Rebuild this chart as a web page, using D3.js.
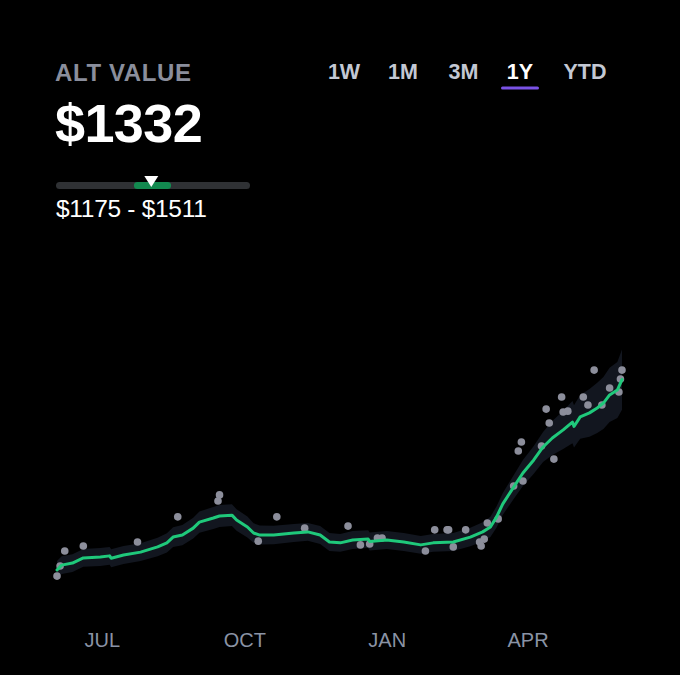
<!DOCTYPE html>
<html><head><meta charset="utf-8">
<script src="https://cdn.jsdelivr.net/npm/d3@7"></script>
<style>
html,body{margin:0;padding:0;background:#000;}
svg{display:block;}
</style></head>
<body>
<svg id="chart" width="680" height="675"></svg>
<script>
// ---- data ----
const title = "ALT VALUE";
const currentValue = 1332;
const rangeLow = 1175;
const rangeHigh = 1511;
const trackMin = 470, trackMax = 2225;
const tabs = ["1W", "1M", "3M", "1Y", "YTD"];
const activeTab = "1Y";
const tickDates = ["2023-07-01", "2023-10-01", "2024-01-01", "2024-04-01"];

const lineDates = ["2023-06-02","2023-06-05","2023-06-12","2023-06-19","2023-06-30","2023-07-06","2023-07-07","2023-07-15","2023-07-26","2023-08-06","2023-08-12","2023-08-16","2023-08-22","2023-08-29","2023-09-02","2023-09-11","2023-09-15","2023-09-23","2023-09-26","2023-10-03","2023-10-07","2023-10-11","2023-10-20","2023-11-02","2023-11-11","2023-11-19","2023-11-25","2023-12-02","2023-12-10","2023-12-20","2023-12-21","2024-01-01","2024-01-12","2024-01-23","2024-01-31","2024-02-13","2024-02-24","2024-03-03","2024-03-08","2024-03-12","2024-03-16","2024-03-23","2024-03-29","2024-04-05","2024-04-11","2024-04-17","2024-04-24","2024-04-30","2024-05-01","2024-05-05","2024-05-11","2024-05-16","2024-05-20","2024-05-24","2024-05-29","2024-06-01"];
const lineValues = [673,690,697,715,718,722,714,725,735,753,767,787,794,818,839,853,860,863,846,822,801,794,794,801,805,794,770,767,777,780,772,777,770,760,767,770,787,805,822,857,902,960,1009,1054,1099,1130,1158,1185,1170,1203,1217,1234,1251,1279,1296,1332];
const bandHalf = [31,31,31,31,31,31,31,31,31,32,33,34,35,36,37,38,38,38,37,36,34,33,32,31,31,31,31,31,31,31,31,31,31,31,31,31,32,33,35,37,38,41,45,48,52,59,66,73,73,76,83,87,90,94,97,104];

const dotDates = ["2023-06-02","2023-06-04","2023-06-07","2023-06-19","2023-07-24","2023-08-19","2023-09-15","2023-09-14","2023-10-22","2023-10-10","2023-11-09","2023-12-07","2023-12-15","2023-12-21","2023-12-26","2023-12-29","2024-01-26","2024-02-01","2024-02-09","2024-02-10","2024-02-13","2024-02-21","2024-03-01","2024-03-02","2024-03-04","2024-03-06","2024-03-13","2024-03-23","2024-03-29","2024-03-26","2024-03-28","2024-04-10","2024-04-18","2024-04-13","2024-04-15","2024-04-23","2024-04-24","2024-04-27","2024-05-07","2024-05-10","2024-05-14","2024-05-19","2024-05-24","2024-05-30","2024-05-31","2024-06-01"];
const dotValues = [652,687,739,756,770,857,933,912,857,773,818,825,760,763,784,784,739,812,812,812,753,812,770,756,780,836,850,964,981,1085,1116,1102,1057,1230,1182,1272,1220,1223,1272,1244,1365,1244,1303,1289,1334,1365];

// ---- setup ----
const parse = d3.utcParse("%Y-%m-%d");
const svg = d3.select("#chart");
svg.append("rect").attr("width",680).attr("height",675).attr("fill","#000");

const x = d3.scaleUtc().domain([parse("2023-06-02"), parse("2024-06-01")]).range([57, 622]);
const y = d3.scaleLinear().domain([500, 1400]).range([620, 360]);

const series = lineDates.map((d,i)=>({date:parse(d), v:lineValues[i], h:bandHalf[i]}));
const dots = dotDates.map((d,i)=>({date:parse(d), v:dotValues[i]}));

// ---- header ----
const font = "'Liberation Sans', Arial, sans-serif";
svg.append("text").attr("x",55).attr("y",80.5).text(title)
  .attr("font-family",font).attr("font-weight",700).attr("font-size",24)
  .attr("fill","#8a8e9c").attr("letter-spacing",0.6);
svg.append("text").attr("x",55).attr("y",142).text("$" + currentValue)
  .attr("font-family",font).attr("font-weight",700).attr("font-size",54)
  .attr("fill","#ffffff").attr("letter-spacing",-0.6);

const rs = d3.scaleLinear().domain([trackMin, trackMax]).range([56, 250]);
svg.append("rect").attr("x",rs(trackMin)).attr("y",182).attr("width",rs(trackMax)-rs(trackMin)).attr("height",7)
  .attr("rx",3.5).attr("fill","#2f3134");
svg.append("rect").attr("x",rs(rangeLow)).attr("y",182).attr("width",rs(rangeHigh)-rs(rangeLow)).attr("height",7)
  .attr("rx",3.5).attr("fill","#12894f");
const cx = rs(currentValue);
svg.append("path").attr("d",`M${cx-7},176L${cx+7},176L${cx},187Z`).attr("fill","#ffffff");
svg.append("text").attr("x",56).attr("y",217).text("$" + rangeLow + " - $" + rangeHigh)
  .attr("font-family",font).attr("font-weight",400).attr("font-size",24.5)
  .attr("fill","#ffffff").attr("letter-spacing",-0.3);

// tabs
const tabCenters = {"1W":344,"1M":403,"3M":463.5,"1Y":520,"YTD":585};
svg.selectAll("text.tab").data(tabs).join("text").attr("class","tab")
  .attr("x",d=>tabCenters[d]).attr("y",78.5).attr("text-anchor","middle")
  .attr("font-family",font).attr("font-weight",700).attr("font-size",21.5)
  .attr("fill",d=>d===activeTab?"#ffffff":"#c3c8d3").text(d=>d);
svg.append("rect").attr("x",tabCenters[activeTab]-19).attr("y",86.5).attr("width",38).attr("height",3)
  .attr("rx",1.5).attr("fill","#7a52e6");

// ---- chart ----
const area = d3.area().x(d=>x(d.date)).y0(d=>y(d.v - d.h)).y1(d=>y(d.v + d.h));
svg.append("path").datum(series).attr("d",area).attr("fill","#12161f");

svg.selectAll("circle.dot").data(dots).join("circle").attr("class","dot")
  .attr("cx",d=>x(d.date)).attr("cy",d=>y(d.v)).attr("r",3.8).attr("fill","#8c8e9b");

const line = d3.line().x(d=>x(d.date)).y(d=>y(d.v));
svg.append("path").datum(series).attr("d",line).attr("fill","none")
  .attr("stroke","#1fc97b").attr("stroke-width",3).attr("stroke-linejoin","round").attr("stroke-linecap","round");

// axis
const axis = d3.axisBottom(x).tickValues(tickDates.map(parse)).tickSize(0).tickPadding(0)
  .tickFormat(d=>d3.utcFormat("%b")(d).toUpperCase());
const g = svg.append("g").attr("transform","translate(0,633)").call(axis);
g.select(".domain").remove();
g.selectAll("text").attr("font-family",font).attr("font-size",20).attr("font-weight",400)
  .attr("fill","#8a93a5");
</script>
</body></html>
